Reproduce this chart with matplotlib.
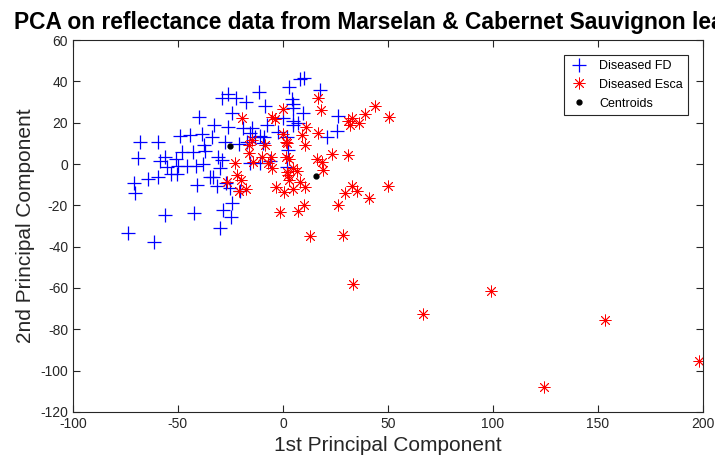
import numpy as np
import matplotlib
matplotlib.use('Agg')
import matplotlib.pyplot as plt

# PCA scores, first two components
fd_pc1 = [-73.8, -61.4, -71.0, -70.5, -69.0, -68.1, -59.5, -64.3, -59.5, -58.6,
          -56.2, -55.2, -51.0, -48.1, -50.0, -45.7, -41.4, -38.1, -53.3, -50.5,
          -49.0, -44.3, -38.6, -33.8, -42.9, -37.6, -37.1, -31.0, -29.0, -30.0,
          -34.8, -41.0, -31.4, -27.1, -25.2, -20.5, -24.3, -28.6, -24.8, -30.0,
          -56.2, -42.4, -40.0, -32.9, -26.2, -19.0, -14.8, -26.2, -29.0, -22.4,
          -17.6, -24.3, -11.4, -8.6, 2.9, 8.1, 10.0, 17.6, 4.3, 4.8,
          4.8, 9.5, 26.2, 0.0, 4.8, 4.8, 7.1, -7.6, -15.7, -11.0,
          -9.0, 1.9, 25.7, 21.0, -27.6, -21.0, -13.3, -9.5, -17.1, 2.4,
          1.9, -15.7, -11.0, -6.2, -2.4, -33.3]
fd_pc2 = [-33.4, -37.7, -9.2, -14.0, 2.9, 10.6, 10.6, -7.3, -6.3, 1.5,
          3.4, -1.5, 2.4, 5.8, -1.0, -1.0, -1.0, 0.0, -4.8, -4.8,
          13.5, 14.0, 14.5, 13.1, 5.8, 9.2, 6.3, 3.4, 1.9, -1.9,
          -6.3, -10.2, -10.6, -9.2, -11.6, -13.1, -18.9, -22.3, -25.6, -31.0,
          -24.7, -23.7, 22.7, 18.9, 17.9, 17.4, 17.4, 33.9, 31.9, 31.9,
          30.0, 24.7, 34.8, 28.1, 37.3, 41.1, 41.6, 35.8, 31.4, 29.0,
          27.1, 24.7, 23.2, 22.3, 20.8, 18.9, 19.8, 18.9, 15.0, 13.5,
          13.1, 13.1, 16.0, 13.1, 10.6, 9.7, 13.1, 10.2, 10.6, 6.8,
          -1.5, 0.5, 0.5, 1.5, 15.5, -6.3]

esca_pc1 = [-19.5, 0.0, -5.2, -3.8, 16.7, 18.1, 11.0, 0.0, 9.0, 16.7,
            31.0, 32.9, 31.9, 36.2, 39.0, 43.8, 50.5, 1.4, -8.6, 10.5,
            -14.8, -16.2, 23.3, 31.0, 16.2, 18.6, -10.0, -5.7, 1.4, 2.9,
            -14.3, -7.1, -5.2, 19.0, 4.8, 6.7, 2.4, 2.9, 8.1, 10.5,
            4.8, -3.3, 0.5, -1.4, 7.1, 10.0, 26.2, 29.5, 32.9, 35.2,
            41.0, 50.0, 12.9, 28.6, -16.2, -22.9, -21.9, -20.0, -26.7, -17.6,
            -21.0, 1.9, 1.9, 33.3, 66.7, 99.0, 124.3, 153.3, 198.1]
esca_pc2 = [22.3, 26.6, 22.7, 21.8, 31.9, 26.1, 17.9, 14.5, 14.0, 15.0,
            20.8, 22.3, 18.9, 19.8, 24.2, 28.1, 22.7, 10.6, 9.2, 9.2,
            11.6, 9.2, 4.8, 4.4, 2.4, 1.0, 3.4, 3.4, 3.4, 2.4,
            1.0, 0.5, -1.9, -2.9, -1.9, -3.4, -5.3, -7.7, -8.7, -11.1,
            -12.1, -11.1, -13.5, -23.2, -22.7, -19.8, -19.8, -14.0, -10.6, -13.1,
            -16.4, -10.6, -34.8, -34.3, 5.3, 0.5, -5.3, -7.7, -8.7, -12.1,
            -13.1, 10.2, -3.9, -58.1, -72.6, -61.4, -107.9, -75.5, -95.3]

centroid_pc1 = [-25.2, 15.7]
centroid_pc2 = [8.7, -5.8]

x_ticks = [-100, -50, 0, 50, 100, 150, 200]
y_ticks = [-120, -100, -80, -60, -40, -20, 0, 20, 40, 60]

plt.rcParams['font.family'] = ['Liberation Sans', 'DejaVu Sans']
plt.rcParams['axes.unicode_minus'] = False

fig = plt.figure(figsize=(7.15, 4.68), dpi=100)
ax = fig.add_axes([0.102, 0.1197, 0.881, 0.7948])

asterisk = (8, 2, 0)
ax.plot(fd_pc1, fd_pc2, linestyle='none', marker='+', color='blue',
        markersize=10, markeredgewidth=0.9, label='Diseased FD')
ax.plot(esca_pc1, esca_pc2, linestyle='none', marker=asterisk, color='red',
        markersize=8.5, markeredgewidth=0.6, label='Diseased Esca')
ax.plot(centroid_pc1, centroid_pc2, linestyle='none', marker='o', color='black',
        markersize=3.5, label='Centroids')

ax.set_xlim(-100, 200)
ax.set_ylim(-120, 60)
ax.set_xticks(x_ticks)
ax.set_yticks(y_ticks)

axis_grey = (0.15, 0.15, 0.15)
for spine in ax.spines.values():
    spine.set_color(axis_grey)
    spine.set_linewidth(0.8)
ax.tick_params(direction='in', top=True, right=True, length=5, width=0.8,
               color=axis_grey, labelcolor=axis_grey, labelsize=10)

ax.set_xlabel('1st Principal Component', fontsize=15, color=axis_grey, labelpad=4)
ax.set_ylabel('2nd Principal Component', fontsize=15, color=axis_grey, labelpad=4)
# long title runs past the figure edge, as in the original MATLAB export
ax.set_title('PCA on reflectance data from Marselan & Cabernet Sauvignon leaves',
             fontsize=16.4, fontweight='bold', pad=8)

leg = ax.legend(loc='upper right', bbox_to_anchor=(0.976, 0.96), fontsize=9,
                fancybox=False, framealpha=1, edgecolor=axis_grey,
                borderpad=0.4, handlelength=1.6, handletextpad=0.8,
                labelspacing=0.55, borderaxespad=0)
leg.get_frame().set_linewidth(0.8)

fig.savefig('out.png', dpi=100)
